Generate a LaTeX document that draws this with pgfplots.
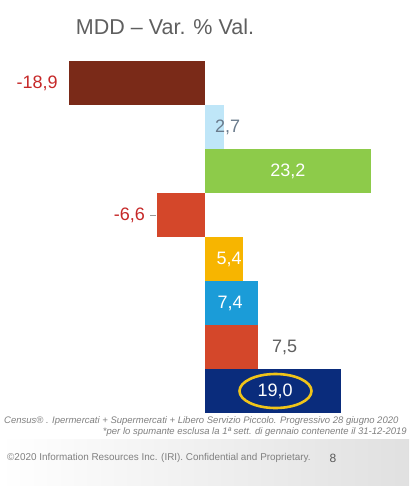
\documentclass[border=0pt]{standalone}
\usepackage{fontspec}
\setmainfont{Liberation Sans}
\usepackage{pgfplots}
\pgfplotsset{compat=1.18}

\definecolor{cA}{HTML}{7A2A18}
\definecolor{cB}{HTML}{BFE6F8}
\definecolor{cC}{HTML}{8DCB4A}
\definecolor{cD}{HTML}{D4472A}
\definecolor{cE}{HTML}{F7B500}
\definecolor{cF}{HTML}{1B9CD8}
\definecolor{cG}{HTML}{0A2C7C}
\definecolor{ring}{HTML}{F0C419}
\definecolor{negred}{HTML}{C62828}
\definecolor{ttl}{HTML}{5F5F5F}
\definecolor{lblue}{HTML}{6A7B8C}
\definecolor{foot}{HTML}{808080}

\begin{document}
\begin{tikzpicture}[x=1pt,y=1pt]
% page and grey footer band
\fill[white] (0,0) rectangle (409,486);
\shade[left color=white, right color=black!12] (0,0) rectangle (409,46);

\begin{axis}[
    at={(0,0)}, anchor=south west,
    scale only axis,
    width=409pt, height=486pt,
    xmin=-28.52, xmax=28.52,
    ymin=-1.886, ymax=9.159,
    y dir=reverse,
    hide axis,
    clip=false,
    xbar,
    bar width=44pt,
    bar shift=0pt,
    point meta=explicit symbolic,
    nodes near coords,
    every node near coord/.append style={font=\fontsize{18}{20}\selectfont},
]
\addplot[fill=cA, draw=none,
    every node near coord/.append style={anchor=east, text=negred, xshift=-7.7pt}]
    coordinates {(-18.9,0) [-18,9]};
\addplot[fill=cB, draw=none,
    every node near coord/.append style={anchor=west, text=lblue, xshift=-12.3pt}]
    coordinates {(2.7,1) [2,7]};
\addplot[fill=cC, draw=none,
    every node near coord/.append style={anchor=center, text=white, xshift=-83pt}]
    coordinates {(23.2,2) [23,2]};
\addplot[fill=cD, draw=none,
    every node near coord/.append style={anchor=east, text=negred, xshift=-8.7pt}]
    coordinates {(-6.6,3) [-6,6]};
\addplot[fill=cE, draw=none,
    every node near coord/.append style={anchor=center, text=white, xshift=-14pt}]
    coordinates {(5.4,4) [5,4]};
\addplot[fill=cF, draw=none,
    every node near coord/.append style={anchor=center, text=white, xshift=-27.5pt}]
    coordinates {(7.4,5) [7,4]};
\addplot[fill=cD, draw=none,
    every node near coord/.append style={anchor=west, text=ttl, xshift=10.4pt}]
    coordinates {(7.5,6) [7,5]};
\addplot[fill=cG, draw=none,
    every node near coord/.append style={anchor=center, text=white, xshift=-65.7pt}]
    coordinates {(19.0,7) [19,0]};

% leader tick beside -6,6 and ring round 19,0
\draw[black!40, line width=0.6pt] (axis cs:-6.81,3) -- (axis cs:-7.65,3);
\draw[ring, line width=2.6pt] (axis cs:9.9,7) ellipse [x radius=36pt, y radius=17pt];
\end{axis}

% title
\node[anchor=base, text=ttl, font=\fontsize{21.5}{24}\selectfont] at (165,451) {MDD -- Var. \% Val.};

% source notes
\node[anchor=base west, text=foot, inner sep=0pt, font=\fontsize{9.5}{10}\itshape] at (4,62)
    {Census® . Ipermercati + Supermercati + Libero Servizio Piccolo. Progressivo 28 giugno 2020};
\node[anchor=base east, text=foot, inner sep=0pt, font=\fontsize{9.5}{10}\itshape] at (407,51)
    {*per lo spumante esclusa la 1ª sett. di gennaio contenente il 31-12-2019};

% footer
\node[anchor=west, text=foot, inner sep=0pt, font=\fontsize{9.9}{11}\selectfont] at (7,28)
    {©2020 Information Resources Inc. (IRI). Confidential and Proprietary.};
\node[text=black!65, inner sep=0pt, font=\fontsize{12}{13}\selectfont] at (333,28) {8};

\pgfresetboundingbox
\path[use as bounding box] (0,0) rectangle (409,486);
\end{tikzpicture}
\end{document}
